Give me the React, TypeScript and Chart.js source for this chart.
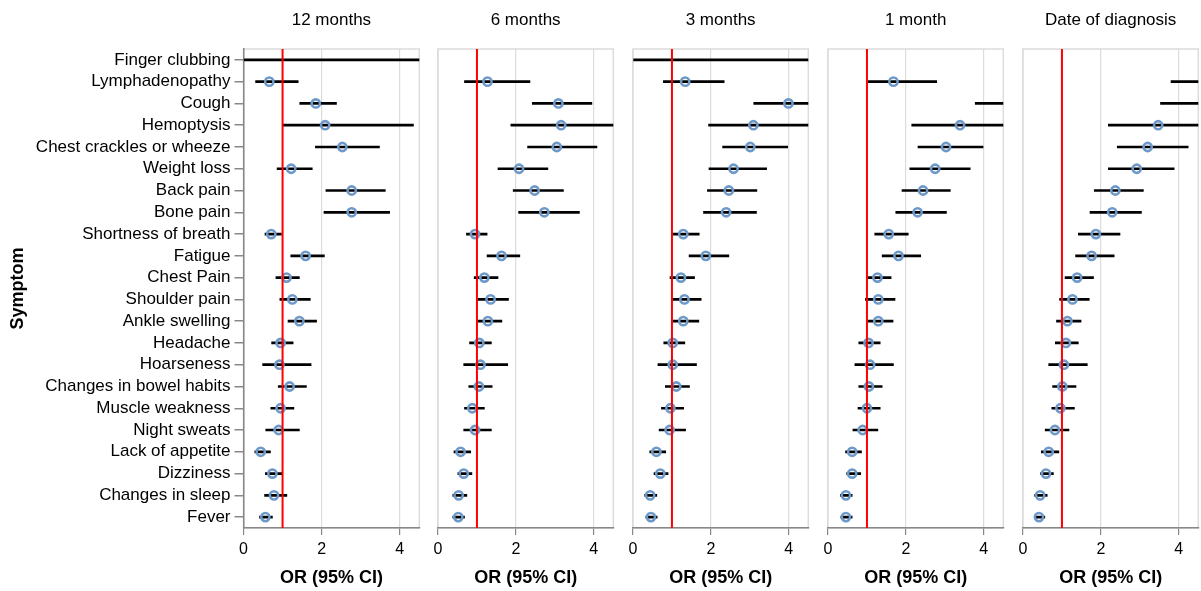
import React, { useEffect, useRef } from "react";
import { Chart, registerables } from "chart.js";

Chart.register(...registerables);
Chart.defaults.font.family = "'Liberation Sans', Arial, Helvetica, sans-serif";

const symptoms = [
  "Finger clubbing", "Lymphadenopathy", "Cough", "Hemoptysis", "Chest crackles or wheeze",
  "Weight loss", "Back pain", "Bone pain", "Shortness of breath", "Fatigue", "Chest Pain",
  "Shoulder pain", "Ankle swelling", "Headache", "Hoarseness", "Changes in bowel habits",
  "Muscle weakness", "Night sweats", "Lack of appetite", "Dizziness", "Changes in sleep", "Fever",
];

const panelTitles = ["12 months", "6 months", "3 months", "1 month", "Date of diagnosis"];
const xMin = 0;
const xMax = 4.5;
const xStep = 2;
const refValue = 1;

// 12 months
const or12 = [6.0, 0.66, 1.85, 2.09, 2.53, 1.22, 2.77, 2.77, 0.71, 1.59, 1.10, 1.25, 1.43, 0.95, 0.92, 1.18, 0.95, 0.90, 0.44, 0.74, 0.78, 0.56];
const lo12 = [0.0, 0.31, 1.44, 1.01, 1.84, 0.86, 2.11, 2.06, 0.55, 1.21, 0.83, 0.93, 1.14, 0.72, 0.49, 0.89, 0.70, 0.57, 0.29, 0.56, 0.54, 0.41];
const hi12 = [30, 1.40, 2.38, 4.35, 3.48, 1.76, 3.63, 3.74, 0.97, 2.07, 1.43, 1.71, 1.87, 1.27, 1.73, 1.61, 1.29, 1.43, 0.69, 0.99, 1.11, 0.74];

// 6 months
const or6 = [null, 1.27, 3.09, 3.16, 3.05, 2.08, 2.48, 2.73, 0.95, 1.63, 1.19, 1.35, 1.28, 1.06, 1.09, 1.05, 0.88, 0.95, 0.58, 0.66, 0.53, 0.52];
const lo6 = [null, 0.68, 2.42, 1.87, 2.30, 1.54, 1.93, 2.07, 0.73, 1.26, 0.93, 1.02, 1.02, 0.81, 0.66, 0.79, 0.68, 0.66, 0.41, 0.51, 0.38, 0.38];
const hi6 = [null, 2.36, 3.95, 4.8, 4.08, 2.82, 3.22, 3.63, 1.26, 2.10, 1.54, 1.81, 1.64, 1.37, 1.79, 1.39, 1.19, 1.37, 0.84, 0.87, 0.74, 0.68];

// 3 months
const or3 = [6.0, 1.34, 3.99, 3.09, 3.01, 2.58, 2.46, 2.39, 1.29, 1.87, 1.23, 1.32, 1.29, 1.02, 1.02, 1.11, 0.96, 0.94, 0.60, 0.70, 0.44, 0.46];
const lo3 = [0.0, 0.78, 3.10, 1.94, 2.30, 1.95, 1.91, 1.81, 1.02, 1.44, 0.95, 1.02, 1.02, 0.79, 0.64, 0.83, 0.73, 0.67, 0.43, 0.54, 0.30, 0.33];
const hi3 = [30, 2.34, 4.8, 5.2, 3.97, 3.43, 3.18, 3.17, 1.70, 2.46, 1.58, 1.75, 1.69, 1.33, 1.63, 1.45, 1.30, 1.35, 0.84, 0.90, 0.61, 0.62];

// 1 month
const or1 = [null, 1.68, 5.2, 3.39, 3.03, 2.75, 2.44, 2.30, 1.56, 1.81, 1.27, 1.29, 1.29, 1.04, 1.08, 1.05, 1.00, 0.89, 0.62, 0.62, 0.46, 0.46];
const lo1 = [null, 1.02, 3.78, 2.15, 2.31, 2.10, 1.90, 1.74, 1.20, 1.39, 1.02, 0.96, 1.02, 0.79, 0.69, 0.79, 0.77, 0.64, 0.45, 0.48, 0.32, 0.33];
const hi1 = [null, 2.79, 7.1, 5.0, 3.98, 3.65, 3.14, 3.04, 2.06, 2.38, 1.62, 1.72, 1.67, 1.34, 1.68, 1.39, 1.34, 1.28, 0.86, 0.84, 0.62, 0.62];

// Date of diagnosis
const or0 = [null, 5.4, 5.0, 3.47, 3.20, 2.92, 2.37, 2.29, 1.87, 1.76, 1.39, 1.27, 1.14, 1.10, 1.05, 1.01, 0.96, 0.82, 0.66, 0.59, 0.44, 0.41];
const lo0 = [null, 3.80, 3.53, 2.19, 2.42, 2.19, 1.83, 1.72, 1.42, 1.35, 1.08, 0.94, 0.86, 0.83, 0.66, 0.76, 0.74, 0.57, 0.47, 0.45, 0.30, 0.29];
const hi0 = [null, 7.6, 7.0, 5.0, 4.24, 3.88, 3.09, 3.04, 2.49, 2.34, 1.81, 1.70, 1.49, 1.42, 1.65, 1.36, 1.32, 1.18, 0.92, 0.78, 0.62, 0.56];

const panels = [
  { title: panelTitles[0], or: or12, lo: lo12, hi: hi12 },
  { title: panelTitles[1], or: or6, lo: lo6, hi: hi6 },
  { title: panelTitles[2], or: or3, lo: lo3, hi: hi3 },
  { title: panelTitles[3], or: or1, lo: lo1, hi: hi1 },
  { title: panelTitles[4], or: or0, lo: lo0, hi: hi0 },
];

// layout
const PANEL_LEFTS = [243.5, 438, 633, 828, 1023];
const PLOT_W = 178;
const CANVAS_H = 591;

const framePlugin = {
  id: "frame",
  beforeDraw(chart: any) {
    const { ctx, chartArea: a } = chart;
    ctx.save();
    ctx.strokeStyle = "#dcdcdc";
    ctx.lineWidth = 1.5;
    ctx.strokeRect(a.left, a.top, a.right - a.left, a.bottom - a.top);
    ctx.restore();
  },
};

const refLinePlugin = {
  id: "refLine",
  afterDatasetsDraw(chart: any) {
    const { ctx, chartArea: a } = chart;
    const x = chart.scales.x.getPixelForValue(refValue);
    ctx.save();
    ctx.strokeStyle = "#ff0000";
    ctx.lineWidth = 2;
    ctx.beginPath();
    ctx.moveTo(x, a.top);
    ctx.lineTo(x, a.bottom);
    ctx.stroke();
    ctx.restore();
  },
};

function Panel({ index, title, or, lo, hi }: any) {
  const ref = useRef<HTMLCanvasElement>(null);
  const first = index === 0;
  const plotLeft = PANEL_LEFTS[index];
  const padL = first ? plotLeft : 16;
  const padR = 4;
  const width = Math.round(padL + PLOT_W + padR);
  const left = plotLeft - padL;

  useEffect(() => {
    const ciData = symptoms.map((_, i) => (lo[i] == null ? null : [lo[i], hi[i]]));
    const ptData = symptoms
      .map((s, i) => (or[i] == null ? null : { x: or[i], y: s }))
      .filter((d) => d !== null);
    const chart = new Chart(ref.current as HTMLCanvasElement, {
      type: "bar",
      data: {
        labels: symptoms,
        datasets: [
          {
            type: "bar",
            indexAxis: "y",
            data: ciData as any,
            backgroundColor: "#000000",
            borderWidth: 0,
            barThickness: 2,
            order: 2,
          } as any,
          {
            type: "scatter",
            data: ptData as any,
            pointRadius: 4.1,
            pointBorderWidth: 2.6,
            pointBorderColor: "rgb(108,152,202)",
            pointBackgroundColor: "rgba(0,0,0,0)",
            order: 1,
          } as any,
        ],
      },
      options: {
        responsive: false,
        animation: false,
        devicePixelRatio: 1,
        layout: { padding: { left: first ? 0 : padL, right: padR, top: 0, bottom: 0 } },
        plugins: {
          legend: { display: false },
          tooltip: { enabled: false },
          title: {
            display: true,
            text: title,
            fullSize: false,
            color: "#000",
            font: { size: 17, weight: "normal" },
            padding: { top: 10, bottom: 18.6 },
          },
        },
        scales: {
          x: {
            type: "linear",
            min: xMin,
            max: xMax,
            offset: false,
            bounds: "data",
            ticks: {
              stepSize: xStep,
              includeBounds: false,
              font: { size: 16 },
              color: "#000",
              padding: 5,
              maxRotation: 0,
            },
            grid: {
              offset: false,
              color: "#dcdcdc",
              lineWidth: 1.2,
              tickColor: "#888",
              tickLength: 7,
            },
            border: { color: "#888", width: 1.5 },
            title: {
              display: true,
              text: "OR (95% CI)",
              color: "#000",
              font: { size: 18, weight: "bold" },
              padding: { top: 4, bottom: 2 },
            },
            afterFit: (s: any) => {
              s.height = 63;
            },
          },
          y: {
            type: "category",
            offset: true,
            display: first,
            ticks: { font: { size: 17 }, color: "#000", padding: 4, autoSkip: false },
            grid: {
              offset: false,
              drawOnChartArea: false,
              tickColor: "#888",
              tickLength: 9,
              lineWidth: 1.5,
            },
            border: { color: "#888", width: 1.5 },
            title: {
              display: first,
              text: "Symptom",
              color: "#000",
              font: { size: 18, weight: "bold" },
              padding: { top: 7, bottom: 0 },
            },
            afterFit: (s: any) => {
              if (first) s.width = plotLeft;
            },
          },
        },
      } as any,
      plugins: [framePlugin, refLinePlugin],
    });
    return () => chart.destroy();
  }, []);

  return (
    <canvas
      ref={ref}
      width={width}
      height={CANVAS_H}
      style={{ position: "absolute", left, top: 0, width, height: CANVAS_H }}
    />
  );
}

export default function App() {
  return (
    <div
      style={{
        position: "absolute",
        left: 0,
        top: 0,
        width: 1201,
        height: 591,
        overflow: "hidden",
        background: "#fff",
      }}
    >
      {panels.map((p, i) => (
        <Panel key={i} index={i} title={p.title} or={p.or} lo={p.lo} hi={p.hi} />
      ))}
    </div>
  );
}
